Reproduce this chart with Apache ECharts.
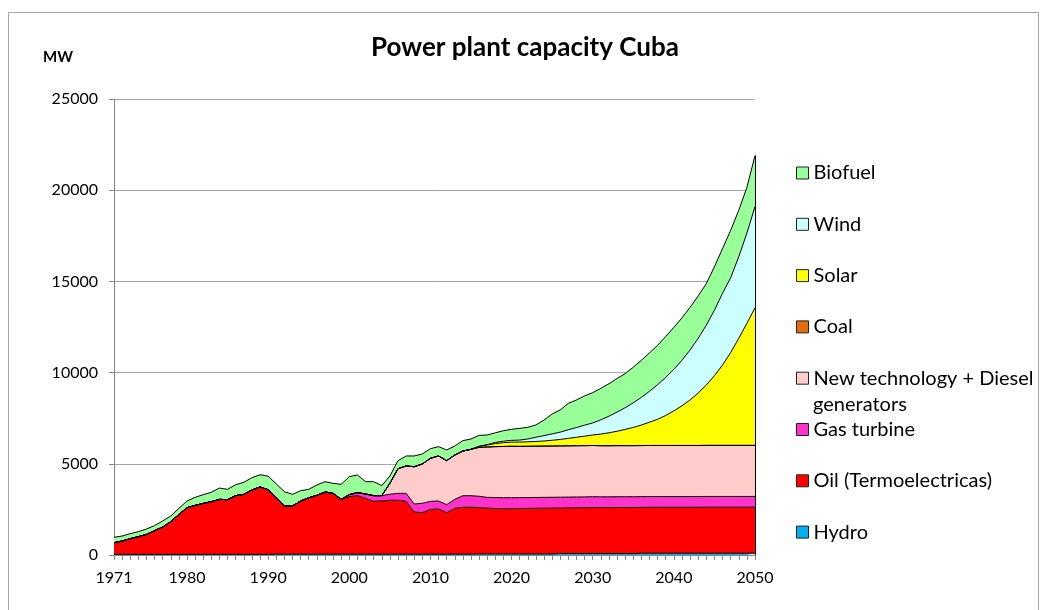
<!DOCTYPE html>
<html>
<head>
<meta charset="utf-8">
<script src="https://cdn.jsdelivr.net/npm/echarts@6/dist/echarts.min.js"></script>
<style>
html,body{margin:0;padding:0;background:#fff;}
#chart{width:1041px;height:610px;}
</style>
</head>
<body>
<div id="chart"></div>
<script>
var years = [];
for (var y = 1971; y <= 2050; y++) years.push(String(y));

var hydro = [40,40,40,40,40,40,40,40,40,40, 40,40,40,40,40,40,40,40,40,40,
  50,50,50,50,50,50,50,50,50,50, 50,50,50,50,50,50,50,50,50,50, 50,50,50,50,50,
  60,60,60,60,60,60,60,60,60,60, 80,80,80,80,80,80,80,80,80,80,
  100,100,100,100,100,100,100,100,100,100,100,100,100,100,100];

var oil = [635,725,855,965,1090,1295,1495,1790,2190,2555,
  2680,2790,2885,3010,2995,3215,3285,3525,3690,3540,
  3100,2640,2640,2910,3090,3220,3405,3330,3000,3150,
  3205,3055,2895,2910,2950,2950,2895,2310,2270,2450,
  2470,2270,2510,2565,2565,2540,2510,2490,2480,2480,
  2490,2495,2500,2505,2510,2495,2500,2505,2510,2520,
  2520,2520,2525,2525,2525,2510,2515,2515,2515,2515,
  2515,2515,2515,2520,2520,2520,2520,2520,2520,2520];

var gasTurbine = [0,0,0,0,0,0,0,0,0,0, 0,0,0,0,0,0,0,0,0,0, 0,0,0,0,0,0,0,0,0,110,
  165,240,310,295,330,380,435,435,515,440,
  440,440,490,635,635,620,590,600,600,600,
  595,595,595,595,595,595,595,595,595,595,
  590,590,590,590,590,590,590,590,590,590,
  590,590,590,590,590,590,590,590,590,590];

var newTech = [0,0,0,0,0,0,0,0,0,0, 0,0,0,0,0,0,0,0,0,0, 0,0,0,0,0,0,0,0,0,0,
  0,0,0,0,600,1350,1500,2045,2155,2360,
  2470,2410,2430,2450,2545,2680,2760,2790,2810,2820,
  2810,2810,2810,2810,2810,2810,2810,2810,2810,2810,
  2800,2800,2800,2800,2800,2800,2800,2800,2800,2800,
  2800,2800,2800,2800,2800,2800,2800,2800,2800,2800];

var coal = [0,0,0,0,0,0,0,0,0,0, 0,0,0,0,0,0,0,0,0,0, 0,0,0,0,0,0,0,0,0,0,
  0,0,0,0,0,0,0,0,0,0, 0,0,0,0,0,0,0,0,0,0, 0,0,0,0,0,0,0,0,0,0,
  0,0,0,0,0,0,0,0,0,0, 0,0,0,0,0,0,0,0,0,0];

var solar = [0,0,0,0,0,0,0,0,0,0, 0,0,0,0,0,0,0,0,0,0, 0,0,0,0,0,0,0,0,0,0,
  0,0,0,0,0,0,0,0,0,0, 0,0,0,0,0,60,110,170,210,230,
  235,245,260,280,315,355,410,465,520,575,
  640,710,790,890,1000,1125,1275,1435,1645,1895,
  2175,2495,2875,3310,3820,4410,5090,5870,6690,7540];

var wind = [0,0,0,0,0,0,0,0,0,0, 0,0,0,0,0,0,0,0,0,0, 0,0,0,0,0,0,0,0,0,0,
  0,0,0,0,0,0,0,0,0,0, 0,0,0,0,0,0,20,60,80,95,
  110,155,230,295,350,400,475,530,605,660,
  780,910,1050,1190,1350,1520,1700,1900,2090,2280,
  2500,2740,3000,3280,3590,3930,4100,4470,4950,5550];

var biofuel = [295,275,275,275,295,275,330,310,330,365,
  440,480,515,620,565,600,660,675,670,740,
  750,780,635,565,460,570,565,550,825,985,
  965,675,765,545,400,440,550,590,550,530,
  510,590,495,570,565,600,530,530,575,605,
  645,640,675,855,1090,1215,1445,1515,1600,1660,
  1730,1780,1840,1870,1950,2030,2100,2160,2240,2300,
  2320,2340,2320,2280,2380,2450,2600,2550,2500,2800];

var yTicks = [0, 5000, 10000, 15000, 20000, 25000];

var seriesDefs = [
  {name: 'Hydro', data: hydro, color: '#00B0F0'},
  {name: 'Oil (Termoelectricas)', data: oil, color: '#FF0000'},
  {name: 'Gas turbine', data: gasTurbine, color: '#FF33CC'},
  {name: 'New technology + Diesel generators', data: newTech, color: '#FFCCCC'},
  {name: 'Coal', data: coal, color: '#E46C0A'},
  {name: 'Solar', data: solar, color: '#FFFF00'},
  {name: 'Wind', data: wind, color: '#CCFFFF'},
  {name: 'Biofuel', data: biofuel, color: '#99FF99'}
];

var lastIdx = years.length - 1;
var totalLast = 0;
seriesDefs.forEach(function (s) { totalLast += s.data[lastIdx]; });

var FONT = 'Lato, "Open Sans", sans-serif';

var series = seriesDefs.map(function (s, i) {
  var o = {
    name: s.name,
    type: 'line',
    stack: 'total',
    data: s.data,
    symbol: 'none',
    showSymbol: false,
    smooth: false,
    color: s.color,
    lineStyle: {color: '#000', width: 1},
    areaStyle: {color: s.color, opacity: 1},
    itemStyle: {color: s.color, borderColor: '#000', borderWidth: 1},
    emphasis: {disabled: true},
    z: 2
  };
  if (i === seriesDefs.length - 1) {
    o.markLine = {
      silent: true,
      symbol: 'none',
      label: {show: false},
      lineStyle: {color: '#000', width: 1, type: 'solid'},
      data: [[{coord: [years[lastIdx], 0]}, {coord: [years[lastIdx], totalLast]}]]
    };
  }
  return o;
});

var chart = echarts.init(document.getElementById('chart'), null, {renderer: 'canvas'});
chart.setOption({
  animation: false,
  backgroundColor: '#fff',
  textStyle: {fontFamily: FONT},
  title: [
    {text: 'Power plant capacity Cuba', left: 520, top: 30, textAlign: 'center',
     textStyle: {fontFamily: FONT, fontSize: 26, fontWeight: 'bold', color: '#000'}},
    {text: 'MW', left: 38, top: 45,
     textStyle: {fontFamily: FONT, fontSize: 15, fontWeight: 'bold', color: '#000'}}
  ],
  legend: {
    orient: 'vertical',
    left: 796,
    top: 162,
    padding: 0,
    itemWidth: 12,
    itemHeight: 12,
    itemGap: 29.3,
    icon: 'rect',
    selectedMode: false,
    data: seriesDefs.slice().reverse().map(function (s) { return s.name; }),
    itemStyle: {borderColor: '#222', borderWidth: 1},
    formatter: function (name) {
      return name === 'New technology + Diesel generators' ? 'New technology + Diesel' : name;
    },
    textStyle: {fontFamily: FONT, fontSize: 20, color: '#000', lineHeight: 22}
  },
  graphic: [
    {type: 'rect', silent: true, z: -10,
     shape: {x: 8.5, y: 12.5, width: 1030, height: 610},
     style: {fill: 'none', stroke: '#a6a6a6', lineWidth: 1}},
    {type: 'text', silent: true, left: 813, top: 395,
     style: {text: 'generators', fontFamily: FONT, fontSize: 20, fill: '#000'}}
  ],
  grid: {left: 114, right: 286, top: 99, bottom: 55, containLabel: false},
  xAxis: {
    type: 'category',
    data: years,
    boundaryGap: false,
    axisLine: {show: true, lineStyle: {color: '#868686', width: 1}},
    axisTick: {show: true, interval: 0, length: 5, lineStyle: {color: '#868686'}},
    axisLabel: {
      interval: function (idx, val) { var v = +val; return v === 1971 || v % 10 === 0; },
      fontFamily: FONT, fontSize: 16, color: '#000', margin: 15
    },
    splitLine: {show: false},
    z: 5
  },
  yAxis: {
    type: 'value',
    min: yTicks[0],
    max: yTicks[yTicks.length - 1],
    interval: 5000,
    axisLine: {show: true, lineStyle: {color: '#868686', width: 1}},
    axisTick: {show: true, length: 5, inside: false, lineStyle: {color: '#868686'}},
    axisLabel: {fontFamily: FONT, fontSize: 16, color: '#000', margin: 16,
      formatter: function (v) { return String(v); }},
    splitLine: {show: true, lineStyle: {color: '#a6a6a6', width: 1}}
  },
  series: series
});
</script>
</body>
</html>
